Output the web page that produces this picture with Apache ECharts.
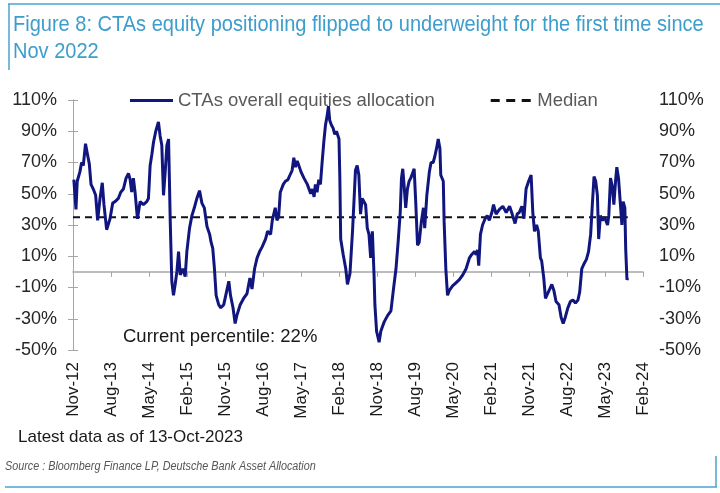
<!DOCTYPE html>
<html>
<head>
<meta charset="utf-8">
<script src="https://cdn.jsdelivr.net/npm/echarts/dist/echarts.min.js"></script>
<style>
html,body{margin:0;padding:0;background:#fff;}
#chart{width:720px;height:493px;}
</style>
</head>
<body>
<div id="chart"></div>
<script>
// ---- data ----
const dates = [
"2012-11-07","2012-11-22","2012-12-01","2012-12-20","2013-01-02","2013-01-14","2013-01-30","2013-02-12","2013-02-27","2013-03-09",
"2013-03-25","2013-04-12","2013-04-26","2013-05-13","2013-05-29","2013-06-11","2013-06-30","2013-07-12","2013-07-24","2013-08-13",
"2013-08-30","2013-09-23","2013-10-10","2013-10-29","2013-11-18","2013-12-05","2013-12-17","2013-12-28","2014-01-10","2014-01-22",
"2014-02-09","2014-02-28","2014-03-21","2014-04-15","2014-04-27","2014-05-09","2014-05-21","2014-06-03","2014-06-19","2014-07-08",
"2014-07-20","2014-08-02","2014-08-14","2014-08-26","2014-09-08","2014-09-20","2014-10-02","2014-10-13","2014-10-25","2014-11-07",
"2014-11-19","2014-12-01","2014-12-13","2015-01-02","2015-01-18","2015-01-30","2015-02-19","2015-03-06","2015-03-23","2015-04-11",
"2015-04-30","2015-05-17","2015-06-04","2015-06-23","2015-07-12","2015-07-22","2015-08-04","2015-08-16","2015-08-28","2015-09-16",
"2015-10-01","2015-10-22","2015-11-16","2015-11-28","2015-12-10","2015-12-28","2016-01-13","2016-01-25","2016-02-19","2016-03-13",
"2016-04-07","2016-04-28","2016-05-13","2016-06-01","2016-06-19","2016-07-07","2016-07-25","2016-08-19","2016-09-04","2016-09-25",
"2016-10-07","2016-10-28","2016-11-10","2016-11-22","2016-12-04","2016-12-25","2017-01-10","2017-01-28","2017-02-13","2017-02-28",
"2017-03-10","2017-03-22","2017-04-04","2017-04-16","2017-05-01","2017-05-22","2017-06-16","2017-07-10","2017-07-22","2017-08-04",
"2017-08-13","2017-08-25","2017-09-07","2017-09-19","2017-10-01","2017-10-13","2017-10-25","2017-11-07","2017-11-16","2017-11-25",
"2017-12-07","2017-12-19","2018-01-01","2018-01-13","2018-02-01","2018-02-07","2018-02-13","2018-03-01","2018-03-19","2018-04-01",
"2018-04-19","2018-05-07","2018-05-19","2018-05-28","2018-06-10","2018-06-22","2018-07-04","2018-07-16","2018-07-28","2018-08-10",
"2018-08-22","2018-09-04","2018-09-16","2018-09-28","2018-10-10","2018-10-16","2018-10-28","2018-11-16","2018-11-28","2018-12-22",
"2019-01-16","2019-02-10","2019-02-28","2019-03-16","2019-04-01","2019-04-16","2019-04-25","2019-05-04","2019-05-13","2019-05-25",
"2019-06-07","2019-06-19","2019-07-01","2019-07-13","2019-07-25","2019-08-07","2019-08-19","2019-09-01","2019-09-16","2019-10-01",
"2019-10-10","2019-10-25","2019-11-13","2019-11-25","2019-12-10","2019-12-22","2020-01-04","2020-01-16","2020-01-28","2020-02-04",
"2020-02-22","2020-02-28","2020-03-10","2020-03-22","2020-04-04","2020-04-28","2020-05-22","2020-06-16","2020-07-10","2020-08-04",
"2020-08-28","2020-09-13","2020-10-04","2020-10-16","2020-10-25","2020-11-04","2020-11-16","2020-12-01","2020-12-19","2021-01-04",
"2021-01-19","2021-02-07","2021-02-19","2021-03-07","2021-04-01","2021-04-25","2021-05-19","2021-06-13","2021-06-28","2021-07-22",
"2021-08-07","2021-08-22","2021-09-10","2021-09-25","2021-10-10","2021-10-28","2021-11-16","2021-11-28","2021-12-10","2021-12-25",
"2022-01-07","2022-01-22","2022-02-01","2022-02-16","2022-02-28","2022-03-10","2022-03-28","2022-04-13","2022-04-28","2022-05-13",
"2022-06-04","2022-06-19","2022-07-04","2022-07-19","2022-08-07","2022-08-25","2022-09-13","2022-10-01","2022-10-19","2022-11-01",
"2022-11-16","2022-12-01","2022-12-19","2023-01-04","2023-01-19","2023-02-01","2023-02-13","2023-02-25","2023-03-07","2023-03-16",
"2023-03-28","2023-04-13","2023-04-28","2023-05-19","2023-05-28","2023-06-10","2023-06-22","2023-07-04","2023-07-16","2023-07-25",
"2023-08-07","2023-08-19","2023-09-01","2023-09-10","2023-09-22","2023-09-28","2023-10-07","2023-10-13"
];
const allocation = [
59,40,58,64,70,68,82,76,69,56,
53,49,33,47,57,43,27,26,34,44,
45,47,51,53,60,63,59,51,60,51,
34,45,43,45,47,68,75,83,90,96,
87,81,49,64,81,85,32,-6,-15,-8,
0,13,-2,2,-3,13,28,36,41,47,
52,44,41,29,24,19,15,2,-15,-21,
-23,-21,-11,-6,-15,-23,-33,-28,-21,-17,
-14,-4,-11,2,9,13,16,21,26,24,
33,41,33,35,51,56,58,59,62,65,
73,67,71,68,64,60,56,50,53,48,
56,51,59,56,70,83,94,100,106,97,
94,92,88,90,85,60,21,11,2,-8,
-1,26,48,65,68,62,37,47,47,43,
28,24,9,26,-2,-21,-38,-45,-38,-32,
-28,-25,-11,2,19,38,60,66,56,41,
53,58,60,63,66,43,17,19,32,41,
28,49,64,70,70,74,79,85,79,62,
58,32,2,-15,-12,-9,-7,-5,-2,2,
9,11,13,11,14,4,24,30,34,36,
33,38,43,37,40,42,38,42,38,31,
37,38,42,34,53,58,62,38,26,30,
26,9,7,-4,-17,-18,-11,-8,-12,-19,
-21,-29,-33,-29,-23,-19,-18,-20,-18,-13,
2,5,8,13,24,43,61,58,49,21,
36,33,35,30,36,60,55,43,58,67,
60,45,30,45,41,15,-5,-4
];
const medianValue = 35;
const xTickLabels = ["Nov-12","Aug-13","May-14","Feb-15","Nov-15","Aug-16","May-17","Feb-18","Nov-18","Aug-19","May-20","Feb-21","Nov-21","Aug-22","May-23","Feb-24"];
const seriesName = "CTAs overall equities allocation";
const medianName = "Median";
const titleText = "Figure 8: CTAs equity positioning flipped to underweight for the first time since\nNov 2022";
const noteText = "Current percentile: 22%";
const latestText = "Latest data as of 13-Oct-2023";
const sourceText = "Source : Bloomberg Finance LP, Deutsche Bank Asset Allocation";

// months since Nov-2012 (axis unit), ticks every 9 months
function monthIndex(s){
  const p = s.split('-').map(Number);
  return (p[0]-2012)*12 + (p[1]-11) + (p[2]-1)/30;
}
const lineData = dates.map((d,i)=>[monthIndex(d), allocation[i]]);
const medianData = [[monthIndex(dates[0]) - 0.2, medianValue],[monthIndex(dates[dates.length-1]), medianValue]];

const FONT = "'Liberation Sans', Arial, sans-serif";
const AXIS_GRAY = '#a6a6a6';
const LINE_BLUE = '#11167f';

const chart = echarts.init(document.getElementById('chart'), null, {renderer:'canvas'});
const yCommon = {
  type:'value', min:-50, max:110, interval:20,
  axisLine:{show:true, lineStyle:{color:AXIS_GRAY, width:1}},
  axisTick:{show:true, length:5, lineStyle:{color:AXIS_GRAY}},
  splitLine:{show:false},
  axisLabel:{formatter: v => v + '%', fontSize:18, color:'#262626', fontFamily:FONT, margin:16}
};
chart.setOption({
  animation:false,
  backgroundColor:'#ffffff',
  grid:{left:73, right:77, top:100, bottom:143, containLabel:false},
  legend:{
    left:125, top:86, itemWidth:43, itemHeight:3, itemGap:56,
    textStyle:{fontSize:18.5, color:'#595959', fontFamily:FONT},
    data:[
      {name:seriesName, icon:'rect'},
      {name:medianName, icon:'path://M0,0h9v3h-9z M15.5,0h9v3h-9z M31,0h9v3h-9z'}
    ]
  },
  xAxis:[
    {type:'value', min:0, max:135, interval:9, position:'bottom',
     axisLine:{onZero:true, lineStyle:{color:AXIS_GRAY, width:1.5}},
     axisTick:{show:true, length:5, inside:false, lineStyle:{color:AXIS_GRAY}},
     axisLabel:{show:false}, splitLine:{show:false}},
    {type:'value', min:0, max:135, interval:9, position:'bottom',
     axisLine:{show:false, onZero:false}, axisTick:{show:false}, splitLine:{show:false},
     axisLabel:{show:true, rotate:90, margin:12, fontSize:17, color:'#1a1a1a', fontFamily:FONT,
       formatter: v => xTickLabels[Math.round(v/9)] || ''}}
  ],
  yAxis:[
    Object.assign({position:'left'}, yCommon),
    Object.assign({position:'right'}, yCommon)
  ],
  series:[
    {name:seriesName, type:'line', xAxisIndex:0, yAxisIndex:0, data:lineData, showSymbol:false, symbol:'none',
     lineStyle:{color:LINE_BLUE, width:3}, itemStyle:{color:LINE_BLUE}, z:3},
    {name:medianName, type:'line', xAxisIndex:0, yAxisIndex:0, data:medianData, showSymbol:false, symbol:'none',
     lineStyle:{color:'#111111', width:2, type:[7,5]}, itemStyle:{color:'#111111'}, z:2}
  ],
  graphic:[
    {type:'line', shape:{x1:8, y1:4, x2:720, y2:4}, style:{stroke:'#4aa3cf', lineWidth:1.5}},
    {type:'line', shape:{x1:9, y1:4, x2:9, y2:70}, style:{stroke:'#4aa3cf', lineWidth:1.5}},
    {type:'text', x:13, y:11, scaleX:0.91, style:{text:titleText, font:"22px " + FONT, fill:'#3d9dcc', lineHeight:27}},
    {type:'text', x:123, y:327, style:{text:noteText, font:"18.5px " + FONT, fill:'#1a1a1a'}},
    {type:'text', x:18, y:429, style:{text:latestText, font:"17px " + FONT, fill:'#1a1a1a'}},
    {type:'text', x:5, y:461, scaleX:0.9, style:{text:sourceText, font:"italic 12px " + FONT, fill:'#555555'}},
    {type:'line', shape:{x1:5, y1:487, x2:717, y2:487}, style:{stroke:'#4aa3cf', lineWidth:1.5}},
    {type:'line', shape:{x1:716, y1:456, x2:716, y2:487}, style:{stroke:'#4aa3cf', lineWidth:1.5}}
  ]
});
</script>
</body>
</html>
